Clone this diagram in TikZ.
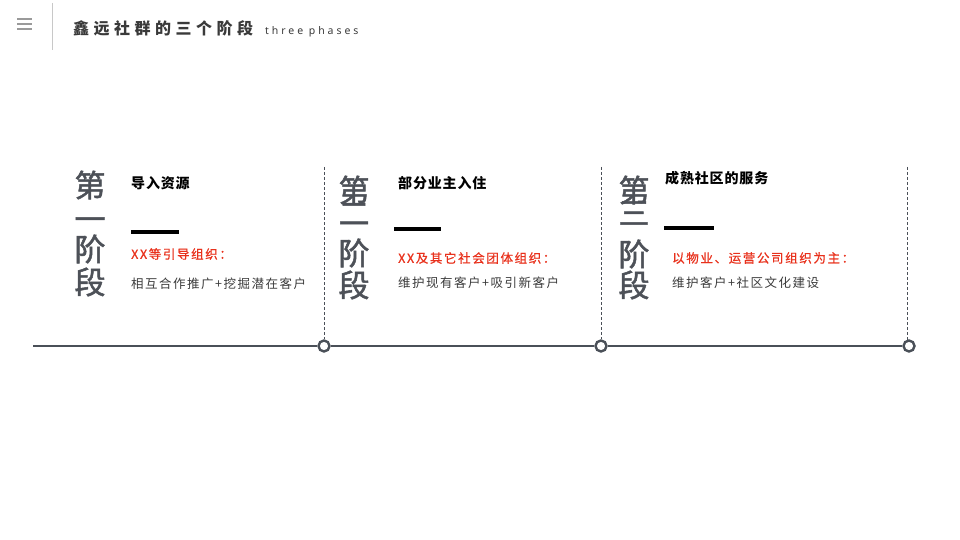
\documentclass[tikz,border=0pt]{standalone}
\usepackage{fontspec}
\setmainfont{Noto Sans CJK SC}
\newfontfamily\latinsp[LetterSpace=28]{Noto Sans}
\definecolor{lineg}{HTML}{4A5058}
\definecolor{bigg}{HTML}{4D5158}
\definecolor{redt}{HTML}{E8311C}
\definecolor{bodyt}{HTML}{3A3A3A}
\definecolor{menug}{HTML}{9A9A9A}
\definecolor{sepg}{HTML}{C8C8C8}
\tikzset{
  bigchar/.style={inner sep=0pt, anchor=center, text=bigg, font=\fontsize{31}{31}\selectfont\addfontfeature{FakeBold=1.6}},
  headt/.style={inner sep=0pt, anchor=west, text=black, font=\fontsize{14}{14}\selectfont\bfseries\addfontfeature{LetterSpace=6}},
  redtxt/.style={inner sep=0pt, anchor=west, text=redt, font=\fontsize{12.5}{12.5}\selectfont\addfontfeature{LetterSpace=13,FakeBold=0.8}},
  bodytxt/.style={inner sep=0pt, anchor=west, text=bodyt, font=\fontsize{12.5}{12.5}\selectfont\addfontfeature{LetterSpace=12}},
  bar/.style={line width=3.5pt, black},
  dashv/.style={line width=0.9pt, draw=lineg, dash pattern=on 3pt off 2pt},
  dot/.style={circle, draw=lineg, line width=2.4pt, fill=white, minimum size=11pt, inner sep=0pt},
}
\begin{document}
\begin{tikzpicture}[x=1pt,y=-1pt]
\useasboundingbox (0,0) rectangle (960,540);
% header
\foreach \yy in {19,24,29} \draw[menug, line width=2pt] (17,\yy) -- (32,\yy);
\draw[sepg, line width=1pt] (52,3) -- (52,50);
\node[inner sep=0pt, anchor=base west, text=bodyt] (title) at (73,35)
  {\fontsize{16}{16}\selectfont\bfseries\addfontfeature{LetterSpace=28}鑫远社群的三个阶段};
\node[inner sep=0pt, anchor=base west, text=bodyt] (sub) at (265,35)
  {\latinsp\fontsize{10.5}{10.5}\selectfont three phases};
% timeline
\coordinate (L) at (33,346);
\node[dot] (d1) at (324,346) {};
\node[dot] (d2) at (601,346) {};
\node[dot] (d3) at (909,346) {};
\draw[lineg, line width=2.8pt] (L) -- (d1) -- (d2) -- (d3);
\coordinate (t1) at (324,167);
\coordinate (t2) at (601,167);
\coordinate (t3) at (907,167);
\draw[dashv] (t1) -- (d1.north);
\draw[dashv] (t2) -- (d2.north);
\draw[dashv] (t3) -- (907,340);
% stage 1
\node[bigchar] (a1) at (90,185) {第};
\node[bigchar] (a2) at (90,224) {一};
\node[bigchar] (a3) at (90,249) {阶};
\node[bigchar] (a4) at (90,282) {段};
\node[headt] (h1) at (131,183) {导入资源};
\coordinate (b1l) at (131,232); \coordinate (b1r) at (179,232);
\draw[bar] (b1l) -- (b1r);
\node[redtxt] (r1) at (131,254) {XX等引导组织：};
\node[bodytxt] (s1) at (131,284) {相互合作推广+挖掘潜在客户};
% stage 2
\node[bigchar] (c2) at (354,214) {二};
\node[bigchar] (c1) at (354,190) {第};
\node[bigchar] (c3) at (354,253) {阶};
\node[bigchar] (c4) at (354,285) {段};
\node[headt] (h2) at (398,183) {部分业主入住};
\coordinate (b2l) at (394,229); \coordinate (b2r) at (441,229);
\draw[bar] (b2l) -- (b2r);
\node[redtxt] (r2) at (398,258) {XX及其它社会团体组织：};
\node[bodytxt] (s2) at (398,283) {维护现有客户+吸引新客户};
% stage 3
\node[bigchar] (e2) at (634,213) {三};
\node[bigchar] (e1) at (634,190) {第};
\node[bigchar] (e3) at (634,254) {阶};
\node[bigchar] (e4) at (634,285) {段};
\node[headt] (h3) at (665,178) {成熟社区的服务};
\coordinate (b3l) at (664,228); \coordinate (b3r) at (714,228);
\draw[bar] (b3l) -- (b3r);
\node[redtxt] (r3) at (672,258) {以物业、运营公司组织为主：};
\node[bodytxt] (s3) at (672,283) {维护客户+社区文化建设};
\end{tikzpicture}
\end{document}
